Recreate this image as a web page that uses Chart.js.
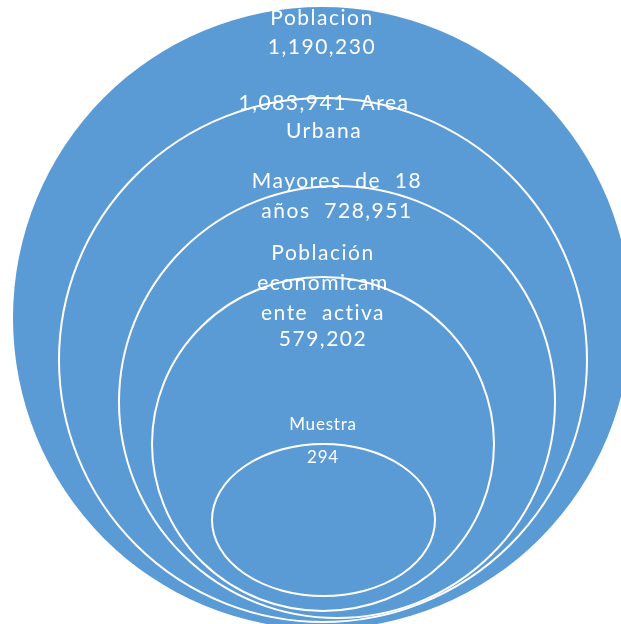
<!DOCTYPE html>
<html>
<head>
<meta charset="utf-8">
<script src="https://cdn.jsdelivr.net/npm/chart.js@4.4.1/dist/chart.umd.min.js"></script>
<style>
    html, body { margin: 0; padding: 0; background: #ffffff; }
    #wrap { width: 621px; height: 624px; }
</style>
</head>
<body>
<div id="wrap"><canvas id="venn-chart" width="621" height="624"></canvas></div>
<script>
// 数据：各层名称与人数
const categories = ['Poblacion', 'Area Urbana', 'Mayores de 18 años', 'Población economicamente activa', 'Muestra'];
const values = [1190230, 1083941, 728951, 579202, 294];

// 椭圆的中心与半径（坐标轴单位）
const centerX = [322, 323, 337, 323, 323.5];
const centerY = [318, 360, 402, 444, 520];
const radiusX = [309, 264, 218, 171, 111.5];
const radiusY = [311, 262, 216, 167, 76];

const fmt = v => v.toLocaleString('en-US');

// 每个椭圆内显示的文字行（按原图断行）
const labelLines = [
    ['Poblacion', fmt(values[0])],
    [fmt(values[1]) + '  Area', 'Urbana'],
    ['Mayores  de  18', 'años  ' + fmt(values[2])],
    ['Población', 'economicam', 'ente  activa', fmt(values[3])],
    ['Muestra', fmt(values[4])]
];

// 文字位置与样式
const labelX = [322, 324, 337, 323, 323];
const labelY = [
    [18, 47],
    [103, 131],
    [181, 211],
    [253, 283, 313, 339],
    [425, 458]
];
const labelFont = ['21px Lato', '21px Lato', '21px Lato', '21px Lato', '17px Lato'];
const labelSpacing = ['1.5px', '1.5px', '1.5px', '1.5px', '0.8px'];

const BLUE = '#5b9bd5';

const ellipsePlugin = {
    id: 'ellipses',
    afterDatasetsDraw(chart) {
        const ctx = chart.ctx;
        const xs = chart.scales.x;
        const ys = chart.scales.y;
        ctx.save();
        for (let i = 0; i < centerX.length; i++) {
            const px = xs.getPixelForValue(centerX[i]);
            const py = ys.getPixelForValue(centerY[i]);
            const rx = Math.abs(xs.getPixelForValue(centerX[i] + radiusX[i]) - px);
            const ry = Math.abs(ys.getPixelForValue(centerY[i] + radiusY[i]) - py);
            ctx.beginPath();
            ctx.ellipse(px, py, rx, ry, 0, 0, Math.PI * 2);
            ctx.fillStyle = BLUE;
            ctx.fill();
            if (i > 0) {
                ctx.lineWidth = 2;
                ctx.strokeStyle = '#ffffff';
                ctx.stroke();
            }
        }
        // 文字
        ctx.fillStyle = '#ffffff';
        ctx.textAlign = 'center';
        ctx.textBaseline = 'middle';
        labelLines.forEach((lines, i) => {
            ctx.font = labelFont[i];
            ctx.letterSpacing = labelSpacing[i];
            lines.forEach((line, j) => {
                ctx.fillText(line, xs.getPixelForValue(labelX[i]), ys.getPixelForValue(labelY[i][j]));
            });
        });
        ctx.restore();
    }
};

new Chart(document.getElementById('venn-chart'), {
    type: 'scatter',
    data: {
        datasets: [{
            label: 'centros',
            data: centerX.map((x, i) => ({ x: x, y: centerY[i] })),
            pointRadius: 0,
            pointHoverRadius: 0
        }]
    },
    options: {
        responsive: false,
        animation: false,
        layout: { padding: 0 },
        plugins: {
            legend: { display: false },
            tooltip: { enabled: false }
        },
        scales: {
            x: { type: 'linear', min: 0, max: 621, display: false },
            y: { type: 'linear', min: 0, max: 624, reverse: true, display: false }
        }
    },
    plugins: [ellipsePlugin]
});
</script>
</body>
</html>
